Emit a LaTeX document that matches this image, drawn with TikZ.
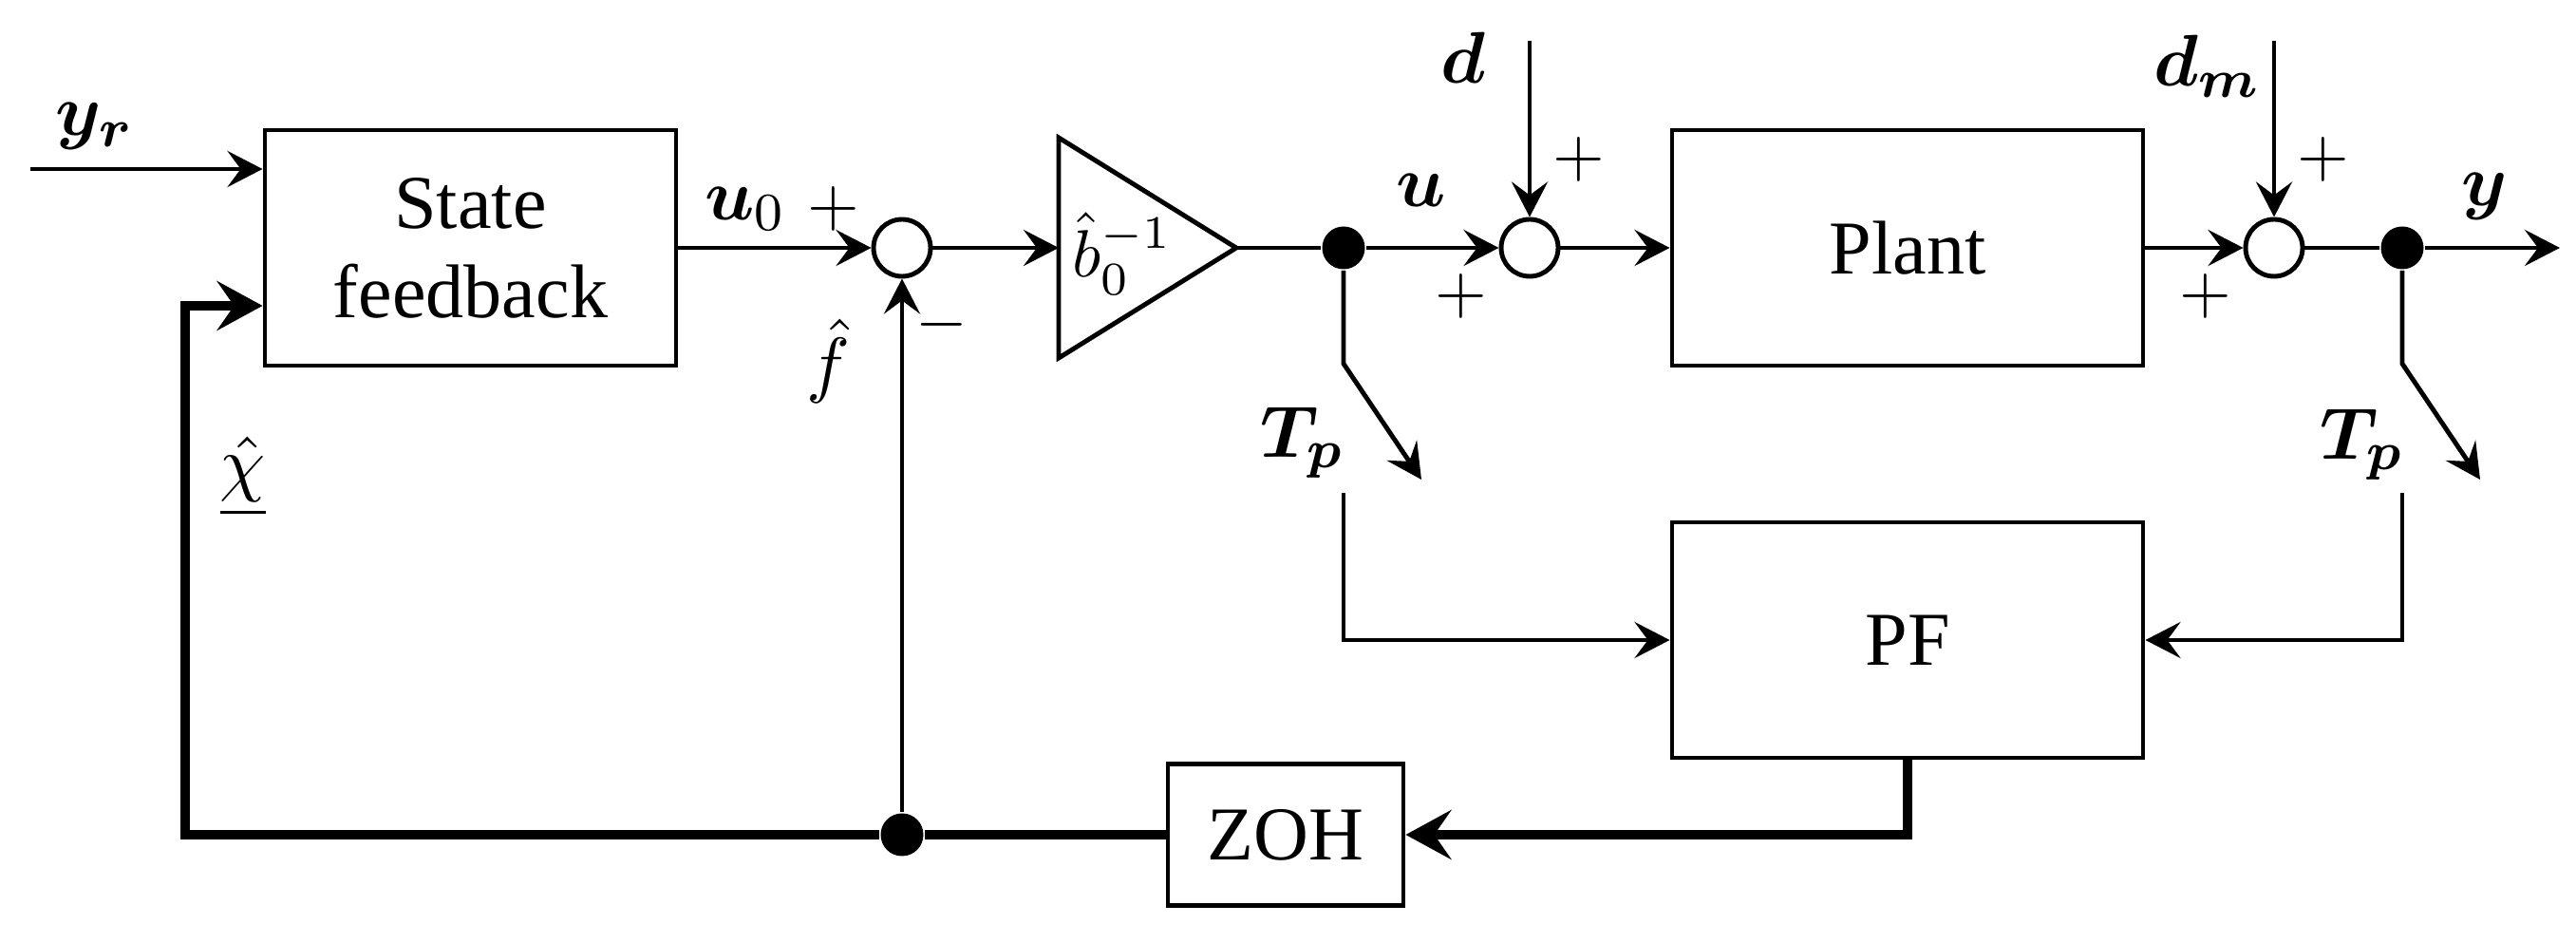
\documentclass[tikz,border=0pt]{standalone}
\usepackage{amsmath, amssymb}
\usepackage{fontspec}
\setmainfont{Liberation Serif}
\usetikzlibrary{arrows.meta, positioning, calc}
\tikzset{
    blockBox/.style={draw=black, line width=0.7pt, minimum width=2.165cm, minimum height=1.24cm, align=center},
    sumNode/.style={circle, draw=black, line width=0.7pt, fill=white, inner sep=0pt, minimum size=3mm},
    dotNode/.style={circle, fill=black, inner sep=0pt, minimum size=2.25mm},
    sigLine/.style={line width=0.7pt},
    fbLine/.style={line width=1.3pt, >={Stealth[length=2.4mm, width=2.6mm, inset=0.9mm]}},
    signLbl/.style={font=\fontsize{10}{12}\selectfont, inner sep=1pt}
}

\begin{document}
\begin{tikzpicture}[>={Stealth[length=1.85mm, width=1.9mm, inset=0.7mm]}, font=\fontsize{11.4}{13.4}\selectfont\rmfamily]
    \useasboundingbox (0,0) rectangle (13.565,4.965);
    % blocks
    \node[blockBox] (sf) at (2.4775,3.66) {State\\feedback};
    \node[blockBox, minimum width=2.48cm] (plant) at (10.045,3.66) {Plant};
    \node[blockBox, minimum width=2.48cm] (pf) at (10.045,1.595) {PF};
    \node[blockBox, minimum width=1.24cm, minimum height=0.745cm] (zoh) at (6.77,0.57) {ZOH};
    \node[sumNode] (sumA) at (4.75,3.66) {};
    \node[sumNode] (sumB) at (8.055,3.66) {};
    \node[sumNode] (sumC) at (11.975,3.66) {};
    \node[dotNode] (dotU) at (7.075,3.66) {};
    \node[dotNode] (dotY) at (12.65,3.66) {};
    \node[dotNode] (dotF) at (4.75,0.57) {};
    % gain
    \coordinate (gainIn) at (5.575,3.66);
    \coordinate (gainOut) at (6.51,3.66);
    \draw[sigLine] (5.575,4.24) -- (gainOut) -- (5.575,3.08) -- cycle;
    \node[inner sep=0pt, font=\fontsize{10}{12}\selectfont] (gainTxt) at (5.91,3.63) {$\hat{b}_0^{-1}$};
    % free ends
    \coordinate (yrIn) at (0.16,4.075);
    \coordinate (dIn) at (8.055,4.75);
    \coordinate (dmIn) at (11.975,4.75);
    \coordinate (yOut) at (13.48,3.66);
    \coordinate (tpU) at (7.075,3.05);  \coordinate (tpUend) at (7.485,2.44);
    \coordinate (tpY) at (12.65,3.05);  \coordinate (tpYend) at (13.06,2.44);
    \coordinate (pfInU) at (7.075,2.37);
    \coordinate (pfInY) at (12.65,2.37);
    \coordinate (fbCorner) at (0.975,0.57);
    \coordinate (fbTurn) at (0.975,3.355);
    % forward path
    \draw[sigLine, ->] (yrIn) -- (yrIn -| sf.west);
    \draw[sigLine, ->] (sf.east) -- (sumA);
    \draw[sigLine, ->] (sumA) -- (gainIn);
    \draw[sigLine] (gainOut) -- (dotU);
    \draw[sigLine, ->] (dotU) -- (sumB);
    \draw[sigLine, ->] (dIn) -- (sumB);
    \draw[sigLine, ->] (sumB) -- (plant);
    \draw[sigLine, ->] (plant) -- (sumC);
    \draw[sigLine, ->] (dmIn) -- (sumC);
    \draw[sigLine] (sumC) -- (dotY);
    \draw[sigLine, ->] (dotY) -- (yOut);
    % samplers
    \draw[sigLine, ->] (dotU) -- (tpU) -- (tpUend);
    \draw[sigLine, ->] (dotY) -- (tpY) -- (tpYend);
    \draw[sigLine, ->] (pfInU) |- (pf.west);
    \draw[sigLine, ->] (pfInY) |- (pf.east);
    % feedback
    \draw[fbLine, ->] (pf.south) |- (zoh.east);
    \draw[fbLine] (zoh.west) -- (dotF);
    \draw[fbLine, ->] (dotF) -- (fbCorner) -- (fbTurn) -- (fbTurn -| sf.west);
    \draw[sigLine, ->] (dotF) -- (sumA);
    % labels
    \node (yrLbl) at (0.5,4.30) {$\boldsymbol{y_r}$};
    \node (uzLbl) at (3.925,3.865) {$\boldsymbol{u}_0$};
    \node[signLbl] (pA1) at (4.39,3.865) {$+$};
    \node[signLbl] (mA) at (4.96,3.255) {$-$};
    \node (fLbl) at (4.36,3.065) {$\hat{f}$};
    \node (uLbl) at (7.485,3.965) {$\boldsymbol{u}$};
    \node[signLbl] (pB1) at (7.695,3.405) {$+$};
    \node (dLbl) at (7.705,4.66) {$\boldsymbol{d}$};
    \node[signLbl] (pB2) at (8.315,4.125) {$+$};
    \node (dmLbl) at (11.625,4.615) {$\boldsymbol{d_m}$};
    \node[signLbl] (pC2) at (12.235,4.125) {$+$};
    \node[signLbl] (pC1) at (11.615,3.405) {$+$};
    \node (yLbl) at (13.085,3.93) {$\boldsymbol{y}$};
    \node (tpULbl) at (6.86,2.635) {$\boldsymbol{T_p}$};
    \node (tpYLbl) at (12.44,2.625) {$\boldsymbol{T_p}$};
    \node (xLbl) at (1.28,2.455) {$\underline{\hat{\chi}}$};
\end{tikzpicture}
\end{document}
